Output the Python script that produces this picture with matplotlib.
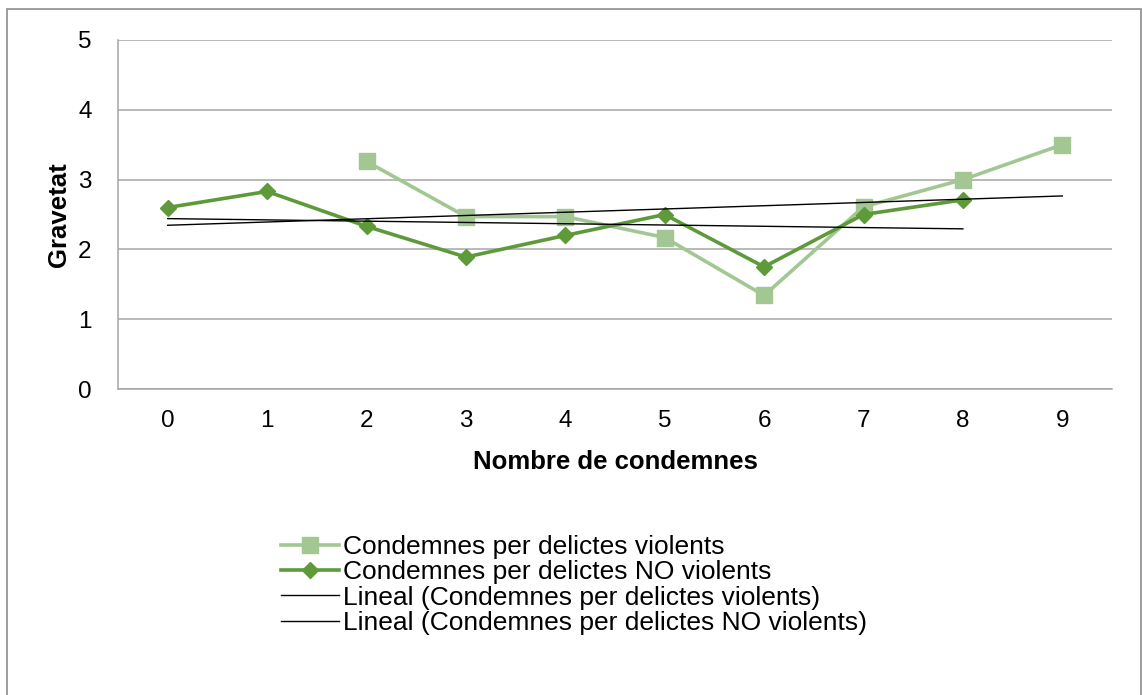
import numpy as np
import matplotlib
matplotlib.use('Agg')
import matplotlib.pyplot as plt
from matplotlib.patches import Rectangle

plt.rcParams['font.family'] = ['Liberation Sans', 'DejaVu Sans']

# data
condemnes = [0, 1, 2, 3, 4, 5, 6, 7, 8, 9]
violents = [np.nan, np.nan, 3.26, 2.47, 2.47, 2.17, 1.34, 2.61, 3.0, 3.5]
no_violents = [2.6, 2.83, 2.33, 1.89, 2.2, 2.5, 1.75, 2.5, 2.71, np.nan]
yticks = [0, 1, 2, 3, 4, 5]

labels = ['Condemnes per delictes violents',
          'Condemnes per delictes NO violents',
          'Lineal (Condemnes per delictes violents)',
          'Lineal (Condemnes per delictes NO violents)']

light = '#a3c793'
dark = '#5e9a3a'

fig = plt.figure(figsize=(11.42, 6.95), dpi=100)
ax = fig.add_axes([118/1142, 1-389/695, (1112-118)/1142, (389-40)/695])

x = np.array(condemnes, dtype=float)
v = np.array(violents)
nv = np.array(no_violents)

l1, = ax.plot(x, v, color=light, lw=2.6, marker='s', ms=11, zorder=3)
l2, = ax.plot(x, nv, color=dark, lw=2.6, marker='D', ms=8.5, zorder=4)

# linear trend lines (Excel style)
m = ~np.isnan(v)
p = np.polyfit(x[m], v[m], 1)
xt = np.array([0, 9])
l3, = ax.plot(xt, np.polyval(p, xt), color='black', lw=1.0, zorder=5)
m = ~np.isnan(nv)
p = np.polyfit(x[m], nv[m], 1)
xt = np.array([0, 8])
l4, = ax.plot(xt, np.polyval(p, xt), color='black', lw=1.0, zorder=5)

ax.set_xlim(-0.5, 9.5)
ax.set_ylim(0, 5)
ax.set_xticks(condemnes)
ax.set_yticks(yticks)
ax.tick_params(length=0, labelsize=17.5, pad=15)
ax.tick_params(axis='y', pad=19)
ax.grid(axis='y', color='#a6a6a6', lw=1.1)
ax.set_axisbelow(True)
for s in ['top', 'right']:
    ax.spines[s].set_visible(False)
for s in ['left', 'bottom']:
    ax.spines[s].set_color('#a6a6a6')
    ax.spines[s].set_linewidth(1.1)

ax.set_xlabel('Nombre de condemnes', fontsize=18.5, fontweight='bold', labelpad=13)
ax.set_ylabel('Gravetat', fontsize=18.5, fontweight='bold', labelpad=5)

fig.legend([l1, l2, l3, l4], labels, loc='upper left',
           bbox_to_anchor=(281/1142, 1-535/695), frameon=False,
           fontsize=19, handlelength=2.2, handletextpad=0.15,
           labelspacing=0.05, borderpad=0, borderaxespad=0)

# outer chart border
fig.add_artist(Rectangle((7/1142, -0.05), (1141-7)/1142, 1.05-9/695,
                         transform=fig.transFigure, fill=False,
                         edgecolor='#8c8c8c', lw=1.2))

fig.savefig('out.png', dpi=100)
